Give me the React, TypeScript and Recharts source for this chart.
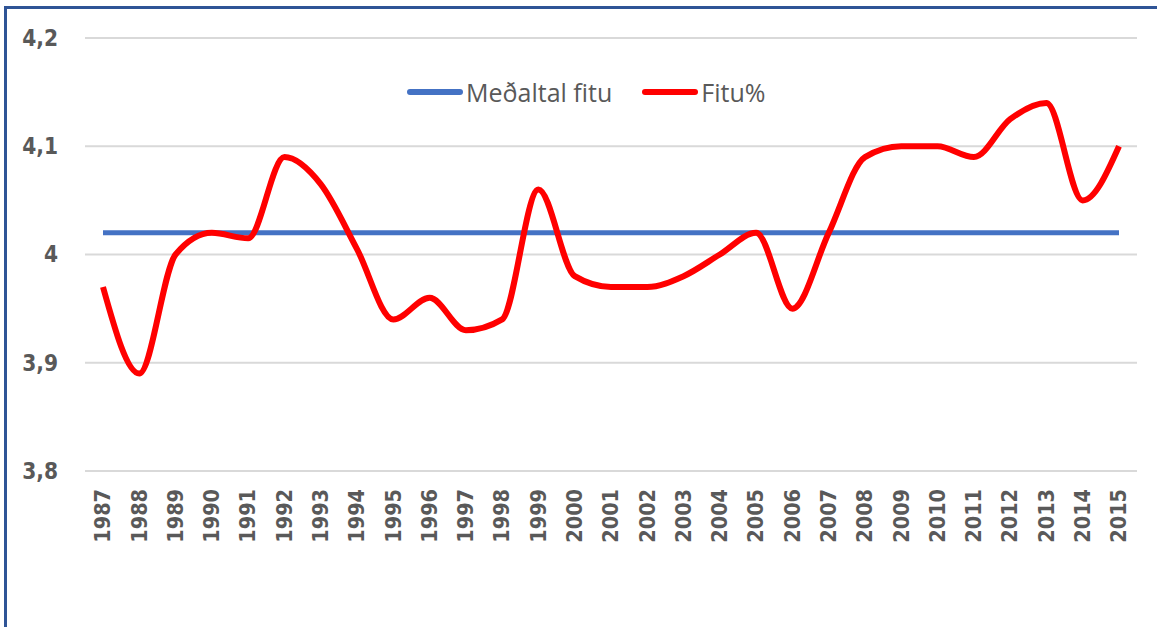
import { CartesianGrid, Legend, Line, LineChart, XAxis, YAxis } from "recharts";

const years = [
  "1987", "1988", "1989", "1990", "1991", "1992", "1993", "1994", "1995", "1996",
  "1997", "1998", "1999", "2000", "2001", "2002", "2003", "2004", "2005", "2006",
  "2007", "2008", "2009", "2010", "2011", "2012", "2013", "2014", "2015",
];

const fitu = [
  3.97, 3.89, 4.0, 4.02, 4.015, 4.09, 4.065, 4.005, 3.94, 3.96,
  3.93, 3.94, 4.06, 3.98, 3.97, 3.97, 3.98, 4.0, 4.02, 3.95,
  4.02, 4.09, 4.1, 4.1, 4.09, 4.125, 4.14, 4.05, 4.1,
];

const medaltal = [
  4.02, 4.02, 4.02, 4.02, 4.02, 4.02, 4.02, 4.02, 4.02, 4.02,
  4.02, 4.02, 4.02, 4.02, 4.02, 4.02, 4.02, 4.02, 4.02, 4.02,
  4.02, 4.02, 4.02, 4.02, 4.02, 4.02, 4.02, 4.02, 4.02,
];

const yTicks = [3.8, 3.9, 4.0, 4.1, 4.2];

const data = years.map((year, i) => ({ year, fitu: fitu[i], medaltal: medaltal[i] }));

const GREY = "#595959";
const BLUE = "#4472C4";
const RED = "#FF0000";

function YTick({ x, y, payload }: any) {
  return (
    <g transform={`translate(${x},${y}) scale(0.88,1)`}>
      <text
        x={0}
        y={0}
        textAnchor="end"
        dominantBaseline="central"
        fill={GREY}
        fontFamily="DejaVu Sans"
        fontWeight="bold"
        fontSize={23}
      >
        {String(payload.value).replace(".", ",")}
      </text>
    </g>
  );
}

function XTick({ x, y, payload }: any) {
  return (
    <g transform={`translate(${x},${y + 10}) rotate(-90) scale(0.92,1)`}>
      <text
        x={0}
        y={0}
        textAnchor="end"
        dominantBaseline="central"
        fill={GREY}
        fontFamily="DejaVu Sans"
        fontWeight="bold"
        fontSize={21}
      >
        {payload.value}
      </text>
    </g>
  );
}

function LegendContent() {
  const items = [
    { label: "Meðaltal fitu", color: BLUE },
    { label: "Fitu%", color: RED },
  ];
  return (
    <div style={{ display: "flex", alignItems: "center", gap: 30 }}>
      {items.map((it) => (
        <div key={it.label} style={{ display: "flex", alignItems: "center" }}>
          <svg width={56} height={8}>
            <line x1={3} y1={4} x2={53} y2={4} stroke={it.color} strokeWidth={6} strokeLinecap="round" />
          </svg>
          <span
            style={{
              marginLeft: 3,
              fontFamily: "Open Sans",
              fontSize: 25,
              color: GREY,
              lineHeight: "30px",
            }}
          >
            {it.label}
          </span>
        </div>
      ))}
    </div>
  );
}

export default function App() {
  return (
    <div
      style={{
        position: "absolute",
        left: 4,
        top: 6,
        width: 1160,
        height: 630,
        border: "3px solid #2F5496",
        background: "#fff",
      }}
    >
      <LineChart
        width={1160}
        height={630}
        data={data}
        margin={{ top: 29, right: 30, left: 0, bottom: 38 }}
      >
        <CartesianGrid vertical={false} stroke="#D9D9D9" strokeWidth={2} />
        <XAxis
          dataKey="year"
          interval={0}
          axisLine={false}
          tickLine={false}
          height={100}
          padding={{ left: 18, right: 18 }}
          tick={<XTick />}
        />
        <YAxis
          domain={[3.8, 4.2]}
          ticks={yTicks}
          width={78}
          axisLine={false}
          tickLine={false}
          tickMargin={21}
          tick={<YTick />}
        />
        <Legend
          content={<LegendContent />}
          wrapperStyle={{ position: "absolute", left: 400, top: 68, width: "auto" }}
        />
        <Line
          dataKey="medaltal"
          name="Meðaltal fitu"
          stroke={BLUE}
          strokeWidth={5}
          dot={false}
          type="linear"
          isAnimationActive={false}
        />
        <Line
          dataKey="fitu"
          name="Fitu%"
          stroke={RED}
          strokeWidth={6}
          dot={false}
          type="monotone"
          isAnimationActive={false}
        />
      </LineChart>
    </div>
  );
}
